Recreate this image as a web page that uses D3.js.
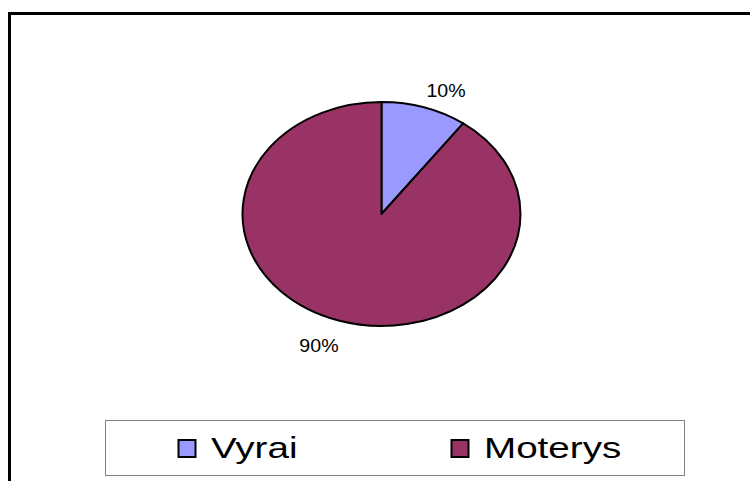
<!DOCTYPE html>
<html>
<head>
<meta charset="utf-8">
<script src="https://cdn.jsdelivr.net/npm/d3@7"></script>
<style>
  html, body { margin: 0; padding: 0; background: #fff; }
  svg { display: block; }
  text { font-family: "Liberation Sans", Arial, sans-serif; }
</style>
</head>
<body>
<svg id="chart" width="750" height="481"></svg>
<script>
const categories = ["Vyrai", "Moterys"];
const values = [10, 90];
const colors = ["#9999FF", "#993366"];

const svg = d3.select("#chart");

// outer chart frame (extends beyond the visible area on right/bottom)
svg.append("rect")
  .attr("x", 9.5).attr("y", 13.5)
  .attr("width", 800).attr("height", 600)
  .attr("fill", "#fff").attr("stroke", "#000").attr("stroke-width", 3);

const cx = 381.5, cy = 214, rx = 139, ry = 112;
const yScale = ry / rx;

const pie = d3.pie().sort(null).value(d => d).startAngle(0).endAngle(2 * Math.PI);
const arcs = pie(values);
const arc = d3.arc().innerRadius(0).outerRadius(rx);

const total = d3.sum(values);
const pct = d3.format(".0%");

const pieG = svg.append("g")
  .attr("transform", `translate(${cx},${cy}) scale(1,${yScale})`);

pieG.selectAll("path")
  .data(arcs)
  .enter().append("path")
  .attr("d", arc)
  .attr("fill", (d, i) => colors[i])
  .attr("stroke", "#000")
  .attr("stroke-width", 2)
  .attr("stroke-linejoin", "round")
  .attr("vector-effect", "non-scaling-stroke");

// data labels placed just outside the edge at each slice's mid angle
svg.selectAll("text.lbl")
  .data(arcs)
  .enter().append("text")
  .attr("class", "lbl")
  .each(function(d) {
    const a = (d.startAngle + d.endAngle) / 2;
    const ex = cx + rx * Math.sin(a);
    const ey = cy - ry * Math.cos(a);
    const right = Math.sin(a) >= 0;
    const top = Math.cos(a) >= 0;
    const x = ex + (right ? 2 : 0);
    const y = ey + (top ? -10.5 : 31.5);
    d3.select(this)
      .attr("transform", `translate(${x},${y}) scale(1.12,1)`)
      .attr("text-anchor", right ? "start" : "end");
  })
  .attr("font-size", 17.5)
  .attr("fill", "#000")
  .text(d => pct(d.data / total));

// legend
const lg = svg.append("g");
lg.append("rect")
  .attr("x", 105.5).attr("y", 420.5)
  .attr("width", 579).attr("height", 55)
  .attr("fill", "#fff").attr("stroke", "#808080").attr("stroke-width", 1);

const legendX = [178, 451];
const items = lg.selectAll("g.item")
  .data(categories)
  .enter().append("g")
  .attr("class", "item")
  .attr("transform", (d, i) => `translate(${legendX[i]},0)`);

items.append("rect")
  .attr("x", 0.5).attr("y", 440)
  .attr("width", 17).attr("height", 17)
  .attr("fill", (d, i) => colors[i])
  .attr("stroke", "#000").attr("stroke-width", 2);

items.append("text")
  .attr("transform", "translate(33,458) scale(1.35,1)")
  .attr("font-size", 28.6)
  .attr("fill", "#000")
  .text(d => d);
</script>
</body>
</html>
